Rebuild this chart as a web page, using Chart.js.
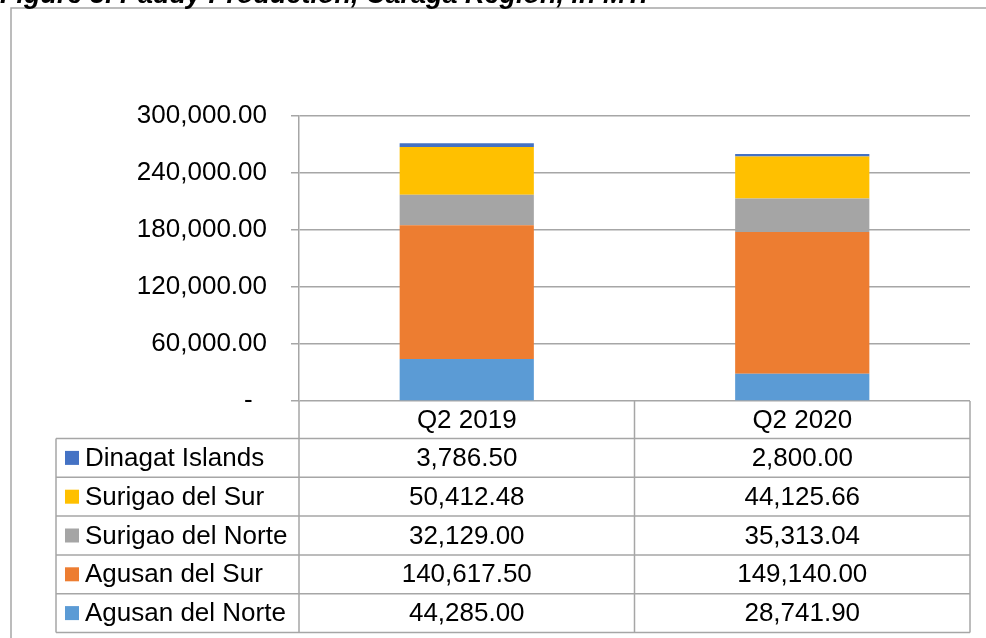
<!DOCTYPE html>
<html>
<head>
<meta charset="utf-8">
<script src="https://cdn.jsdelivr.net/npm/chart.js@4"></script>
<style>
  body { margin: 0; background: #fff; }
  #wrap { width: 986px; height: 638px; position: relative; }
</style>
</head>
<body>
<div id="wrap"><canvas id="myChart" width="986" height="638"></canvas></div>
<script>
const title = 'Figure 3. Paddy Production, Caraga Region, in MT.';
const quarters = ['Q2 2019', 'Q2 2020'];
const yTicks = [0, 60000, 120000, 180000, 240000, 300000];

// stacked bottom to top
const agusanNorte = [44285.00, 28741.90];
const agusanSur = [140617.50, 149140.00];
const surigaoNorte = [32129.00, 35313.04];
const surigaoSur = [50412.48, 44125.66];
const dinagat = [3786.50, 2800.00];

const FONT = 'Liberation Sans, Arial, sans-serif';
const GRID = '#a6a6a6';

function fmt(v) {
    return v.toLocaleString('en-US', { minimumFractionDigits: 2, maximumFractionDigits: 2 });
}

// title + frame + data table under the plot
const tablePlugin = {
    id: 'dataTable',
    beforeDraw(chart) {
        const c = chart.ctx;
        c.save();
        c.fillStyle = '#fff';
        c.fillRect(0, 0, chart.width, chart.height);
        c.strokeStyle = GRID;
        c.lineWidth = 1.5;
        c.strokeRect(11, 8, 1000, 700);
        c.fillStyle = '#000';
        c.font = 'italic bold 27px ' + FONT;
        c.textBaseline = 'alphabetic';
        c.textAlign = 'left';
        c.fillText(title, 0, 3);
        c.restore();
    },
    afterDraw(chart) {
        const c = chart.ctx;
        const area = chart.chartArea;
        const xs = chart.scales.x;
        const half = (xs.getPixelForValue(1) - xs.getPixelForValue(0)) / 2;
        const cols = [area.left];
        quarters.forEach((q, i) => cols.push(xs.getPixelForValue(i) + half));
        const legendLeft = 56;
        const headTop = area.bottom;
        const headBottom = headTop + 37.5;
        const rowH = 38.8;
        const rows = chart.data.datasets.slice().reverse();
        const bottom = headBottom + rowH * rows.length;

        c.save();
        c.strokeStyle = GRID;
        c.lineWidth = 1.5;
        c.beginPath();
        // header row
        c.moveTo(area.left, headBottom); c.lineTo(area.right, headBottom);
        cols.forEach(x => { c.moveTo(x, headTop); c.lineTo(x, bottom); });
        // body rows
        for (let r = 1; r <= rows.length; r++) {
            const y = headBottom + rowH * r;
            c.moveTo(legendLeft, y); c.lineTo(area.right, y);
        }
        c.moveTo(legendLeft, headBottom); c.lineTo(area.left, headBottom);
        c.moveTo(legendLeft, headBottom); c.lineTo(legendLeft, bottom);
        c.stroke();

        c.font = '26px ' + FONT;
        c.fillStyle = '#000';
        c.textBaseline = 'middle';
        c.textAlign = 'center';
        quarters.forEach((q, i) => {
            c.fillText(q, xs.getPixelForValue(i), (headTop + headBottom) / 2 + 1);
        });
        rows.forEach((ds, r) => {
            const cy = headBottom + rowH * r + rowH / 2 + 1;
            c.fillStyle = ds.backgroundColor;
            c.fillRect(65, cy - 8, 14, 14);
            c.fillStyle = '#000';
            c.textAlign = 'left';
            c.fillText(ds.label, 85, cy);
            c.textAlign = 'center';
            ds.data.forEach((v, i) => c.fillText(fmt(v), xs.getPixelForValue(i), cy));
        });
        c.restore();
    }
};

const ctx = document.getElementById('myChart');
new Chart(ctx, {
    type: 'bar',
    data: {
        labels: quarters,
        datasets: [
            { label: 'Agusan del Norte', data: agusanNorte, backgroundColor: '#5b9bd5' },
            { label: 'Agusan del Sur', data: agusanSur, backgroundColor: '#ed7d31' },
            { label: 'Surigao del Norte', data: surigaoNorte, backgroundColor: '#a5a5a5' },
            { label: 'Surigao del Sur', data: surigaoSur, backgroundColor: '#ffc000' },
            { label: 'Dinagat Islands', data: dinagat, backgroundColor: '#4472c4' }
        ]
    },
    options: {
        responsive: false,
        animation: false,
        layout: { padding: { left: 0, right: 16, top: 116, bottom: 237 } },
        datasets: {
            bar: { categoryPercentage: 1, barPercentage: 0.4, borderWidth: 0 }
        },
        plugins: {
            legend: { display: false },
            tooltip: { enabled: false }
        },
        scales: {
            x: {
                stacked: true,
                ticks: { display: false },
                grid: { display: false, drawTicks: false },
                border: { display: false }
            },
            y: {
                stacked: true,
                min: 0,
                max: 300000,
                afterFit: s => { s.width = 299; },
                afterBuildTicks: s => { s.ticks = yTicks.map(v => ({ value: v })); },
                ticks: {
                    padding: 24,
                    color: '#000',
                    font: { family: FONT, size: 26 },
                    callback: v => v === 0 ? '-  ' : fmt(v)
                },
                grid: { color: GRID, lineWidth: 1.5, tickLength: 8 },
                border: { color: GRID, width: 1.5 }
            }
        }
    },
    plugins: [tablePlugin]
});
</script>
</body>
</html>
